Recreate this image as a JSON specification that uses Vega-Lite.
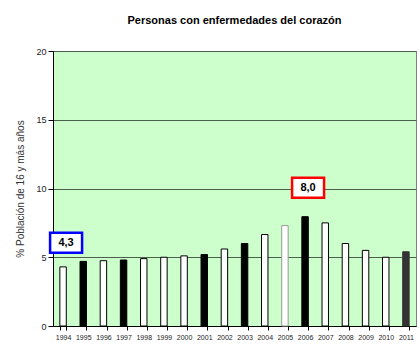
{
  "$schema": "https://vega.github.io/schema/vega-lite/v6.json",
  "autosize": {"type": "none"},
  "width": 363,
  "height": 275,
  "padding": {"left": 53, "top": 51, "right": 4, "bottom": 37},
  "background": "white",
  "title": {
    "text": "Personas con enfermedades  del corazón",
    "font": "Liberation Sans",
    "fontSize": 11,
    "fontWeight": "bold",
    "color": "black",
    "offset": 21,
    "anchor": "middle"
  },
  "config": {
    "view": {"fill": "#ccffcc", "stroke": "#808080", "strokeWidth": 1},
    "axis": {"labelFont": "Liberation Sans", "titleFont": "Liberation Sans"}
  },
  "resolve": {"scale": {"stroke": "independent", "fill": "independent"}},
  "datasets": {
    "bars": [
      {"anio": "1994", "valor": 4.3, "tipo": "A"},
      {"anio": "1995", "valor": 4.7, "tipo": "B"},
      {"anio": "1996", "valor": 4.75, "tipo": "A"},
      {"anio": "1997", "valor": 4.8, "tipo": "B"},
      {"anio": "1998", "valor": 4.9, "tipo": "A"},
      {"anio": "1999", "valor": 5.0, "tipo": "A"},
      {"anio": "2000", "valor": 5.1, "tipo": "A"},
      {"anio": "2001", "valor": 5.2, "tipo": "B"},
      {"anio": "2002", "valor": 5.6, "tipo": "A"},
      {"anio": "2003", "valor": 6.0, "tipo": "B"},
      {"anio": "2004", "valor": 6.65, "tipo": "A"},
      {"anio": "2005", "valor": 7.3, "tipo": "C"},
      {"anio": "2006", "valor": 7.95, "tipo": "B"},
      {"anio": "2007", "valor": 7.5, "tipo": "A"},
      {"anio": "2008", "valor": 6.0, "tipo": "A"},
      {"anio": "2009", "valor": 5.5, "tipo": "A"},
      {"anio": "2010", "valor": 5.0, "tipo": "A"},
      {"anio": "2011", "valor": 5.4, "tipo": "D"}
    ],
    "etiquetas": [
      {"anio": "1994", "pos": 6.05, "texto": "4,3", "marco": "azul"},
      {"anio": "2006", "pos": 10.05, "texto": "8,0", "marco": "rojo"}
    ]
  },
  "layer": [
    {
      "data": {"name": "bars"},
      "mark": {"type": "bar", "strokeWidth": 1},
      "encoding": {
        "x": {
          "field": "anio", "type": "ordinal",
          "scale": {"paddingInner": 0.68, "paddingOuter": 0.34},
          "axis": {
            "title": null, "labelAngle": 0, "labelFontSize": 7, "labelColor": "#222",
            "tickBand": "extent", "tickColor": "black", "tickSize": 4,
            "domainColor": "black", "labelPadding": 3
          }
        },
        "y": {
          "field": "valor", "type": "quantitative",
          "scale": {"domain": [0, 20]},
          "axis": {
            "title": "% Población de 16 y más años", "titleFontSize": 10, "titleFontWeight": "normal",
            "titleColor": "#333", "titlePadding": 10,
            "values": [0, 5, 10, 15, 20], "labelFontSize": 9, "labelColor": "#222",
            "tickColor": "black", "tickSize": 5, "domainColor": "black",
            "gridColor": "#4d5f4d", "gridOpacity": 1, "gridWidth": 1
          }
        },
        "fill": {
          "field": "tipo", "type": "nominal",
          "scale": {"domain": ["A", "B", "C", "D"], "range": ["#ffffff", "#000000", "#ffffff", "#333333"]},
          "legend": null
        },
        "stroke": {
          "field": "tipo", "type": "nominal",
          "scale": {"domain": ["A", "B", "C", "D"], "range": ["#000000", "#000000", "#999999", "#333333"]},
          "legend": null
        }
      }
    },
    {
      "data": {"name": "etiquetas"},
      "mark": {"type": "point", "shape": "M-1.3,-1H1.9V1H-1.3Z", "size": 400, "filled": false, "fill": "white", "fillOpacity": 1, "strokeWidth": 2.5, "opacity": 1},
      "encoding": {
        "x": {"field": "anio", "type": "ordinal"},
        "y": {"field": "pos", "type": "quantitative"},
        "stroke": {
          "field": "marco", "type": "nominal",
          "scale": {"domain": ["azul", "rojo"], "range": ["#0000ff", "#ff0000"]},
          "legend": null
        }
      }
    },
    {
      "data": {"name": "etiquetas"},
      "mark": {"type": "text", "font": "Liberation Sans", "fontSize": 11, "fontWeight": "bold", "color": "black", "baseline": "middle", "align": "center", "dx": 3},
      "encoding": {
        "x": {"field": "anio", "type": "ordinal"},
        "y": {"field": "pos", "type": "quantitative"},
        "text": {"field": "texto"}
      }
    }
  ]
}
